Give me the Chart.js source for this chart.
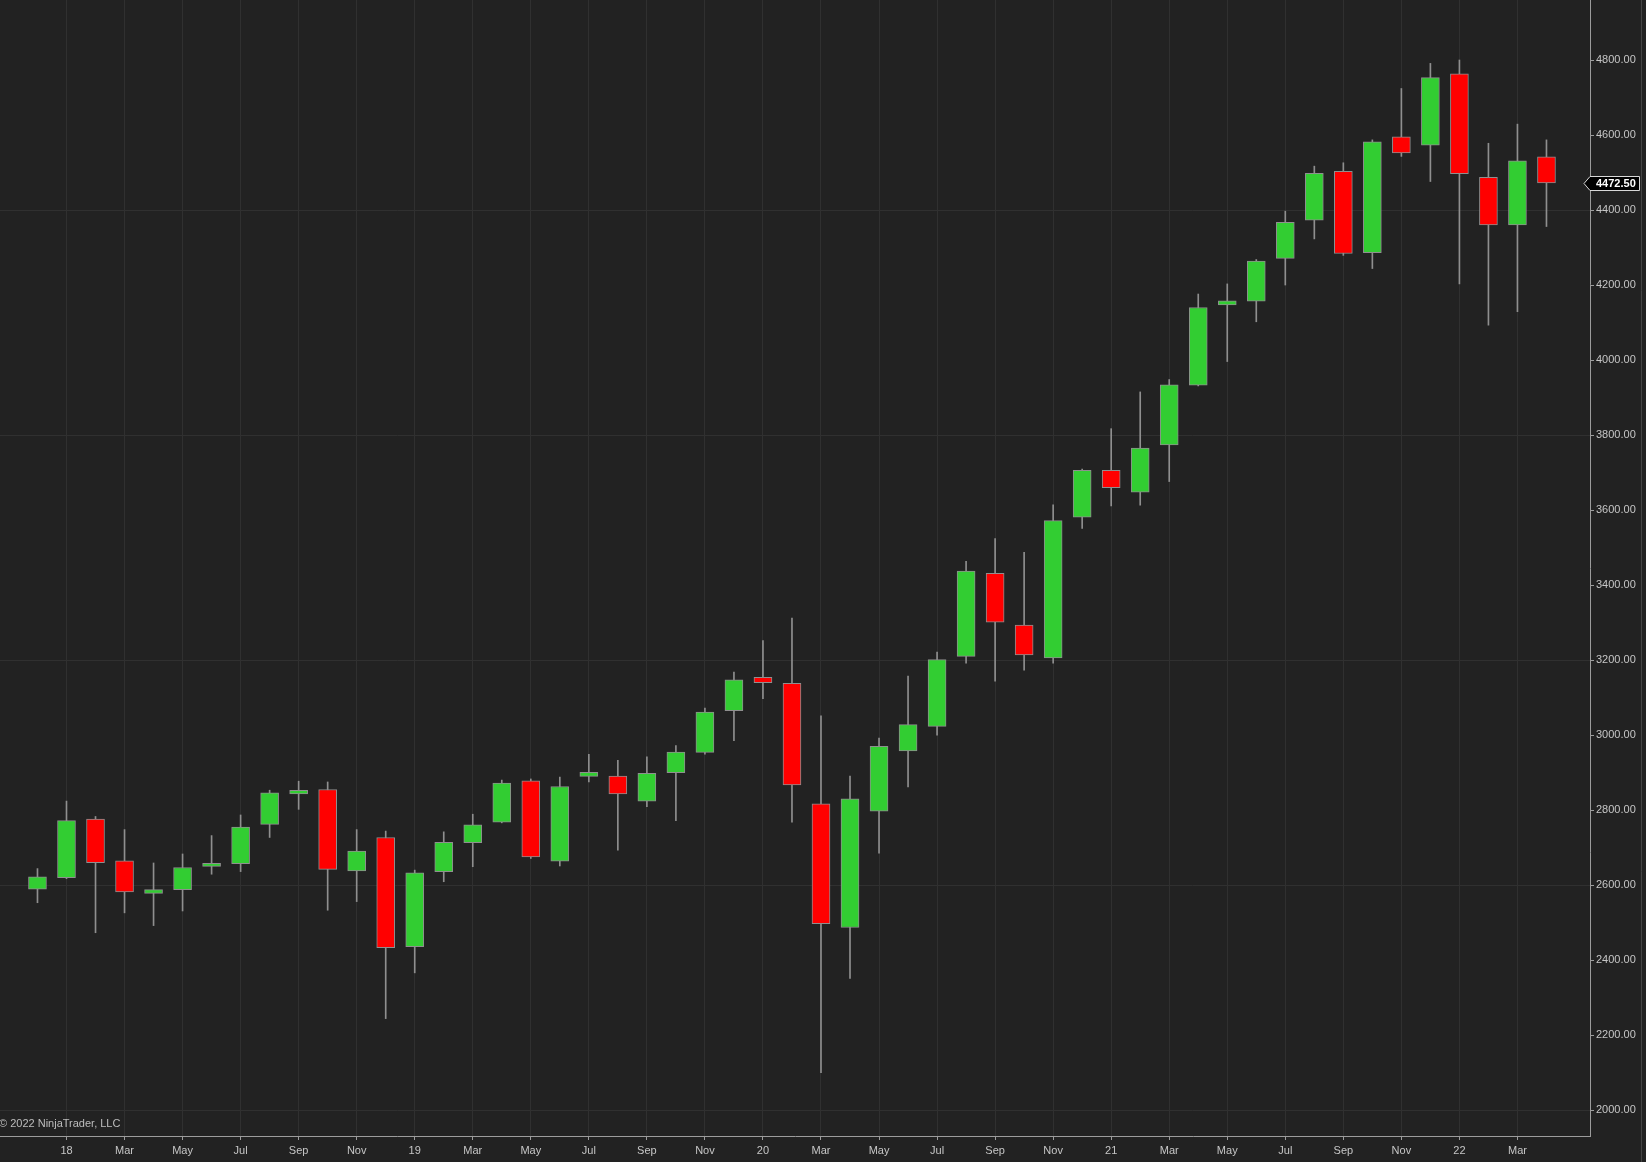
<!DOCTYPE html>
<html>
<head>
<meta charset="utf-8">
<title>ES monthly</title>
<script src="https://cdn.jsdelivr.net/npm/chart.js@4.4.0/dist/chart.umd.min.js"></script>
<style>
    html, body { margin: 0; padding: 0; background: #222222; overflow: hidden; }
    #wrap { width: 1646px; height: 1162px; }
</style>
</head>
<body>
<div id="wrap"><canvas id="chart" width="1646" height="1162"></canvas></div>
<script>
// Monthly bars Dec 2017 -> Apr 2022
const months = [
    'Dec',
    '18', 'Feb', 'Mar', 'Apr', 'May', 'Jun', 'Jul', 'Aug', 'Sep', 'Oct', 'Nov', 'Dec',
    '19', 'Feb', 'Mar', 'Apr', 'May', 'Jun', 'Jul', 'Aug', 'Sep', 'Oct', 'Nov', 'Dec',
    '20', 'Feb', 'Mar', 'Apr', 'May', 'Jun', 'Jul', 'Aug', 'Sep', 'Oct', 'Nov', 'Dec',
    '21', 'Feb', 'Mar', 'Apr', 'May', 'Jun', 'Jul', 'Aug', 'Sep', 'Oct', 'Nov', 'Dec',
    '22', 'Feb', 'Mar', 'Apr'
];
const opens = [2589, 2620, 2776, 2665, 2578, 2588, 2650, 2657, 2762, 2843, 2855, 2638, 2727,
    2436, 2636, 2713, 2768, 2878, 2664, 2890, 2891, 2824, 2900, 2954, 3065,
    3154, 3138, 2817, 2487, 2797, 2958, 3023, 3210, 3431, 3293, 3206, 3581,
    3706, 3648, 3774, 3933, 4147, 4157, 4271, 4373, 4503, 4286, 4595, 4573,
    4763, 4487, 4360, 4542];
const highs = [2644, 2824, 2783, 2748, 2659, 2683, 2732, 2787, 2853, 2877, 2875, 2748, 2744,
    2640, 2742, 2789, 2880, 2883, 2888, 2949, 2933, 2942, 2972, 3072, 3168,
    3252, 3312, 3051, 2891, 2992, 3157, 3221, 3463, 3524, 3487, 3614, 3709,
    3817, 3915, 3948, 4176, 4203, 4268, 4397, 4517, 4526, 4587, 4724, 4791,
    4800, 4578, 4629, 4587];
const lows = [2553, 2617, 2473, 2526, 2492, 2531, 2629, 2636, 2727, 2802, 2533, 2556, 2244,
    2366, 2609, 2649, 2766, 2671, 2651, 2875, 2693, 2809, 2772, 2949, 2985,
    3097, 2768, 2100, 2351, 2685, 2862, 3000, 3192, 3144, 3173, 3192, 3551,
    3611, 3613, 3676, 3931, 3996, 4102, 4200, 4323, 4279, 4244, 4543, 4476,
    4203, 4093, 4129, 4356];
const closes = [2622, 2772, 2660, 2582, 2588, 2647, 2658, 2755, 2846, 2853, 2642, 2691, 2433,
    2633, 2714, 2761, 2872, 2675, 2863, 2901, 2843, 2898, 2955, 3061, 3147,
    3140, 2867, 2497, 2830, 2970, 3028, 3201, 3437, 3301, 3214, 3572, 3706,
    3660, 3765, 3934, 4140, 4158, 4264, 4367, 4498, 4284, 4582, 4552, 4753,
    4497, 4360, 4531, 4472.5];
const priceTicks = [2000, 2200, 2400, 2600, 2800, 3000, 3200, 3400, 3600, 3800,
    4000, 4200, 4400, 4600, 4800];

const UP = '#32cd32';
const DOWN = '#ff0000';
const OUTLINE = '#8f8f8f';
const TEXT = '#c6c6c6';
const GRID = '#303030';
const AXIS = '#9c9c9c';
const FONT = { family: '"Liberation Sans", Arial, sans-serif', size: 11 };

// little overlay: copyright, price marker, right panel edge
const extras = {
    id: 'extras',
    afterDraw(chart) {
        const ctx = chart.ctx;
        const y = chart.scales.y;
        ctx.save();

        ctx.font = '11px "Liberation Sans", Arial, sans-serif';
        ctx.fillStyle = '#bdbdbd';
        ctx.textBaseline = 'middle';
        ctx.textAlign = 'left';
        ctx.fillText('\u00A9 2022 NinjaTrader, LLC', -1, 1124);

        ctx.strokeStyle = '#444444';
        ctx.lineWidth = 1;
        ctx.beginPath();
        ctx.moveTo(1641.5, 0);
        ctx.lineTo(1641.5, chart.height);
        ctx.stroke();

        // last price tag
        const last = closes[closes.length - 1];
        const yc = Math.round(y.getPixelForValue(last)) + 0.5;
        const left = chart.chartArea.right;
        ctx.beginPath();
        ctx.moveTo(left - 6, yc);
        ctx.lineTo(left, yc - 7);
        ctx.lineTo(1639.5, yc - 7);
        ctx.lineTo(1639.5, yc + 7);
        ctx.lineTo(left, yc + 7);
        ctx.closePath();
        ctx.fillStyle = '#000000';
        ctx.fill();
        ctx.strokeStyle = '#d8d8d8';
        ctx.stroke();
        ctx.font = 'bold 11px "Liberation Sans", Arial, sans-serif';
        ctx.fillStyle = '#ffffff';
        ctx.fillText(last.toFixed(2), left + 6, yc + 0.5);

        ctx.restore();
    }
};

const bodies = months.map((m, i) => ({ x: i, y: [opens[i], closes[i]] }));
const wicks = months.map((m, i) => ({ x: i, y: [lows[i], highs[i]] }));

new Chart(document.getElementById('chart').getContext('2d'), {
    type: 'bar',
    data: {
        datasets: [
            {
                label: 'Body',
                data: bodies,
                order: 0,
                grouped: false,
                barThickness: 18,
                borderWidth: 1,
                borderSkipped: false,
                borderColor: OUTLINE,
                backgroundColor: (c) => closes[c.dataIndex] >= opens[c.dataIndex] ? UP : DOWN
            },
            {
                label: 'Range',
                data: wicks,
                order: 1,
                grouped: false,
                barThickness: 1,
                borderWidth: 0,
                backgroundColor: OUTLINE
            }
        ]
    },
    options: {
        responsive: false,
        animation: false,
        layout: { padding: 0 },
        plugins: { legend: { display: false }, tooltip: { enabled: false } },
        scales: {
            x: {
                type: 'linear',
                min: -1.2915,
                max: 53.5,
                offset: false,
                afterBuildTicks: (axis) => {
                    axis.ticks = months.map((m, i) => ({ value: i })).filter(t => t.value % 2 === 1);
                },
                afterFit: (s) => { s.height = 26; s.paddingLeft = 0; s.paddingRight = 0; },
                ticks: {
                    autoSkip: false,
                    maxRotation: 0,
                    padding: 4,
                    color: TEXT,
                    font: FONT,
                    callback: (v) => months[v]
                },
                grid: { offset: false, color: GRID, tickColor: AXIS, tickLength: 4 },
                border: { display: true, color: AXIS, width: 1 }
            },
            y: {
                type: 'linear',
                position: 'right',
                min: 1931,
                max: 4960,
                afterBuildTicks: (axis) => {
                    axis.ticks = priceTicks.map(v => ({ value: v }));
                },
                afterFit: (s) => { s.width = 56; s.paddingTop = 0; s.paddingBottom = 0; },
                ticks: {
                    padding: 2,
                    color: TEXT,
                    font: FONT,
                    callback: (v) => v.toFixed(2)
                },
                grid: {
                    color: (c) => (c.tick && (c.tick.value - 2000) % 600 === 0) ? GRID : 'rgba(0,0,0,0)',
                    tickColor: AXIS,
                    tickLength: 4
                },
                border: { display: true, color: AXIS, width: 1 }
            }
        }
    },
    plugins: [extras]
});
</script>
</body>
</html>
